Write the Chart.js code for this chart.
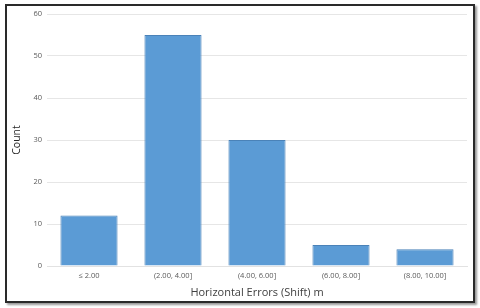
<!DOCTYPE html>
<html><head><meta charset="utf-8">
<script src="https://cdn.jsdelivr.net/npm/chart.js@4"></script>
<style>
html,body{margin:0;padding:0;background:#fff;}
#wrap{position:relative;width:480px;height:308px;}
#frame{position:absolute;left:5px;top:4px;width:466px;height:295px;border:2px solid #2a2a2a;box-shadow:2px 2px 2px #999;background:#fff;}
canvas{position:absolute;left:0;top:0;}
</style></head>
<body>
<div id="wrap"><div id="frame"></div><canvas id="c" width="480" height="308"></canvas></div>
<script>
const categories = ["≤ 2.00", "(2.00, 4.00]", "(4.00, 6.00]", "(6.00, 8.00]", "(8.00, 10.00]"];
const counts = [12, 55, 30, 5, 4];
const yTicks = [0, 10, 20, 30, 40, 50, 60];

new Chart(document.getElementById('c'), {
  type: 'bar',
  data: { labels: categories, datasets: [{ data: counts, backgroundColor: '#5b9bd5', borderColor: '#4a82b8', borderWidth: 1, categoryPercentage: 1, barPercentage: 0.68 }] },
  options: {
    responsive: false, animation: false,
    layout: { padding: { left: 11, right: 13, top: 14, bottom: 9 } },
    plugins: { legend: { display: false }, tooltip: { enabled: false } },
    scales: {
      x: {
        grid: { display: false },
        border: { display: true, color: '#e2e2e2' },
        ticks: { color: '#595959', font: { family: 'Open Sans', size: 7.5 }, maxRotation: 0, padding: -3 },
        title: { display: true, text: 'Horizontal Errors (Shift) m', color: '#404040', font: { family: 'Open Sans', size: 11 }, padding: { top: 3, bottom: 0 } },
        afterFit: s => { s.height = 33; }
      },
      y: {
        min: 0, max: 60,
        afterBuildTicks: s => { s.ticks = yTicks.map(v => ({ value: v })); },
        grid: { color: '#e6e6e6', drawTicks: false },
        border: { display: false },
        ticks: { color: '#595959', font: { family: 'Open Sans', size: 7.5 }, padding: 5 },
        title: { display: true, text: 'Count', color: '#262626', font: { family: 'Open Sans', size: 10.5 }, padding: 0 },
        afterFit: s => { s.width = 36; }
      }
    }
  }
});
</script>
</body></html>
